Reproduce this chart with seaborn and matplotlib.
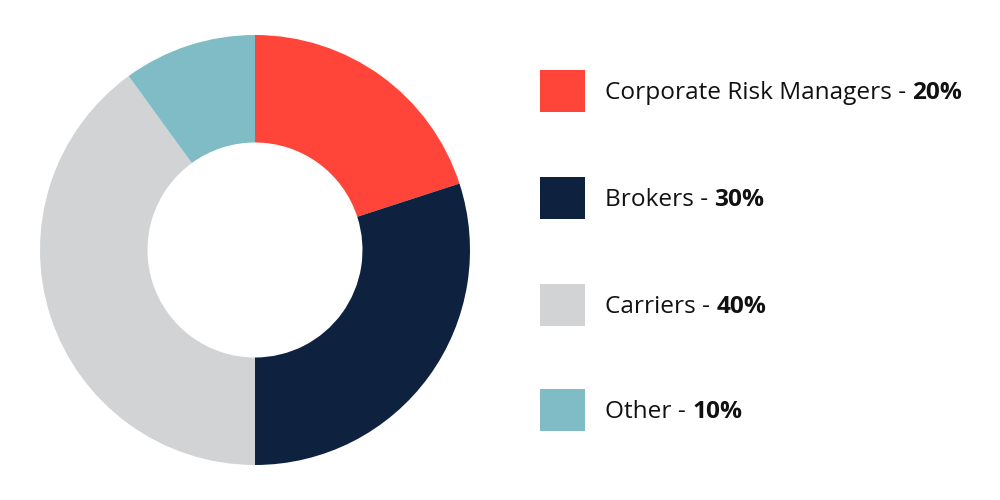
import matplotlib.pyplot as plt
import seaborn as sns
from matplotlib.patches import Rectangle

# data
labels = ["Corporate Risk Managers", "Brokers", "Carriers", "Other"]
shares = [20, 30, 40, 10]
colors = ["#FF4539", "#0E223F", "#D1D3D4", "#7FBCC6"]

sns.set_theme(style="white")
plt.rcParams['font.family'] = ['Open Sans', 'DejaVu Sans']

fig = plt.figure(figsize=(10, 5), dpi=100)
fig.patch.set_facecolor("white")

# donut
ax = fig.add_axes([0, 0, 0.51, 1])
ax.pie(shares, colors=colors, startangle=90, counterclock=False,
       radius=1, wedgeprops=dict(width=0.5, edgecolor="none"))
ax.set_xlim(-255 / 215, 255 / 215)
ax.set_ylim(-250 / 215, 250 / 215)
ax.set_aspect("equal")
ax.axis("off")

# legend
lg = fig.add_axes([0, 0, 1, 1])
lg.set_xlim(0, 1000)
lg.set_ylim(500, 0)
lg.axis("off")

row_y = [91, 198, 305, 410]
for y, lab, val, col in zip(row_y, labels, shares, colors):
    lg.add_patch(Rectangle((540, y - 21), 45, 42, facecolor=col, edgecolor="none"))
    t = lg.text(605, y + 2, f"{lab} - ", fontsize=17.6, color="#111111",
                va="center", ha="left")
    lg.annotate(f"{val}%", xy=(1, 0.5), xycoords=t, fontsize=17.6,
                fontweight="bold", color="#111111", va="center", ha="left")

fig.savefig("out.png", dpi=100, facecolor="white")
